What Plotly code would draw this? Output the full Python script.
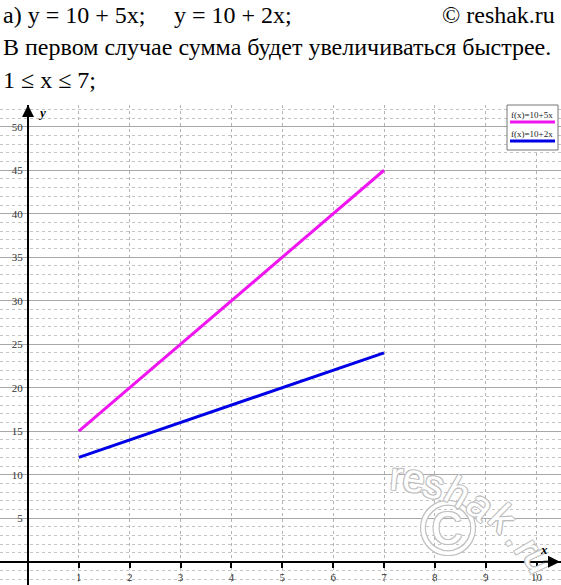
import plotly.graph_objects as go

# ---- data ----
x_vals = [1, 7]
y_fast = [15, 45]   # f(x)=10+5x
y_slow = [12, 24]   # f(x)=10+2x
series_names = ["f(x)=10+5x", "f(x)=10+2x"]
series_colors = ["#f014f0", "#0000e6"]
x_ticks = [1, 2, 3, 4, 5, 6, 7, 8, 9, 10]
y_ticks = [5, 10, 15, 20, 25, 30, 35, 40, 45, 50]

W, H = 561, 585
plot_top_px = 105
x_range = [-0.5505, 10.48]
y_range = [-2.68, 52.5]

def py(px):  # figure pixel (from top) -> paper y
    return 1 - px / H

def pxx(px):
    return px / W

fig = go.Figure()
for xs, ys, name, col in [(x_vals, y_fast, series_names[0], series_colors[0]),
                          (x_vals, y_slow, series_names[1], series_colors[1])]:
    fig.add_trace(go.Scatter(x=xs, y=ys, mode="lines", name=name,
                             line=dict(color=col, width=3), showlegend=False))

serif = "Liberation Serif"
tickfont = dict(family=serif, size=11, color="#333")

fig.update_layout(
    width=W, height=H,
    margin=dict(l=0, r=0, t=0, b=0, pad=0, autoexpand=False),
    paper_bgcolor="white", plot_bgcolor="white",
    xaxis=dict(
        range=x_range, domain=[0, 1], anchor="free", automargin=False,
        position=(H - 561.7) / H,
        tickvals=x_ticks, ticktext=[str(v) for v in x_ticks],
        showgrid=True, gridcolor="#b4b4b4", griddash="dot", gridwidth=1,
        showline=True, linecolor="black", linewidth=2,
        ticks="outside", ticklen=5, tickwidth=1.5, tickcolor="black",
        tickfont=tickfont, zeroline=False,
    ),
    yaxis=dict(
        range=y_range, domain=[0, (H - plot_top_px) / H], anchor="free", automargin=False,
        position=28 / W,
        tickvals=y_ticks, ticktext=[str(v) for v in y_ticks],
        showgrid=True, gridcolor="#a8a8a8", gridwidth=1,
        minor=dict(dtick=1, tick0=0, showgrid=True, gridcolor="#c4c4c4",
                   griddash="dot", gridwidth=1, ticks=""),
        showline=True, linecolor="black", linewidth=2,
        ticks="", ticklabelstandoff=2,
        tickfont=tickfont, zeroline=False,
    ),
    showlegend=False,
)

def note(xp, yp, text, font, xanchor="center", yanchor="middle", **kw):
    fig.add_annotation(x=pxx(xp), y=py(yp), xref="paper", yref="paper", text=text,
                       showarrow=False, font=font, xanchor=xanchor, yanchor=yanchor, **kw)

# watermark (drawn first, under the rest)
outline = "1px 1px 0 #c0c0c0, -1px -1px 0 #c0c0c0, 1px -1px 0 #c0c0c0, -1px 1px 0 #c0c0c0"
wm_font = dict(family="Liberation Sans", size=40, color="white", shadow=outline)
note(448, 527, "©", dict(family="Liberation Sans", size=76, color="white", shadow=outline))
wm_letters = [("r", 396, 476, 5), ("e", 414, 478, 8), ("s", 434, 484, 15),
              ("h", 458, 492, 30), ("a", 481, 505, 40), ("k", 503, 518, 45),
              (".", 518, 536, 55), ("r", 528, 547, 60), ("u", 540, 560, 65)]
for ch, xp, yp, ang in wm_letters:
    note(xp, yp, ch, wm_font, textangle=ang)

# axis arrows
fig.add_annotation(x=0, y=y_range[1], ax=0, ay=18, xref="x", yref="y",
                   showarrow=True, arrowhead=2, arrowsize=1.2, arrowwidth=2,
                   arrowcolor="black", text="")
fig.add_annotation(x=x_range[1] - 0.02, y=0, ax=-18, ay=0, xref="x", yref="y",
                   showarrow=True, arrowhead=2, arrowsize=1.2, arrowwidth=2,
                   arrowcolor="black", text="")
# axis names
note(42, 113, "<b><i>y</i></b>", dict(family=serif, size=13, color="black"))
note(544, 549, "<b><i>x</i></b>", dict(family=serif, size=13, color="black"))

# custom legend box
fig.add_shape(type="rect", xref="paper", yref="paper",
              x0=pxx(507), x1=pxx(558), y0=py(150), y1=py(105),
              line=dict(color="#777", width=1), fillcolor="white", layer="above")
for i, (name, col) in enumerate(zip(series_names, series_colors)):
    ty = 115 + i * 19
    note(532, ty, name, dict(family=serif, size=9, color="#222"))
    fig.add_shape(type="line", xref="paper", yref="paper",
                  x0=pxx(510), x1=pxx(555), y0=py(ty + 7), y1=py(ty + 7),
                  line=dict(color=col, width=3), layer="above")

# header text
hfont = dict(family=serif, size=24, color="black")
note(1, 15, "a) y = 10 + 5x;", hfont, xanchor="left")
note(172, 15, "y = 10 + 2x;", hfont, xanchor="left")
note(557, 15, "© reshak.ru", hfont, xanchor="right")
note(1, 47, "В первом случае сумма будет увеличиваться быстрее.", hfont, xanchor="left")
note(1, 80, "1 ≤ x ≤ 7;", hfont, xanchor="left")

fig.write_html("out.html", config={"displayModeBar": False},
               post_script="document.body.style.margin='0';")
